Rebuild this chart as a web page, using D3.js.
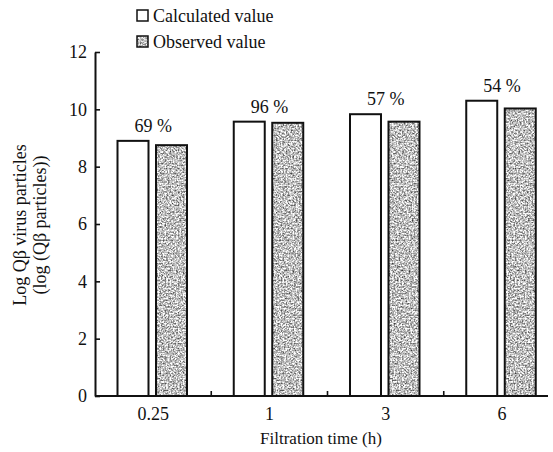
<!DOCTYPE html>
<html>
<head>
<meta charset="utf-8">
<script src="https://cdn.jsdelivr.net/npm/d3@7"></script>
<style>
  html, body { margin: 0; padding: 0; background: #fff; }
  svg { display: block; }
  text { font-family: "Liberation Serif", "Times New Roman", serif; fill: #111; }
</style>
</head>
<body>
<div id="chart"></div>
<script>
// Filtration time groups and the two series plotted for each
const categories = ["0.25", "1", "3", "6"];
const seriesNames = ["Calculated value", "Observed value"];
const calculated = [8.9, 9.57, 9.83, 10.3];
const observed = [8.75, 9.53, 9.57, 10.03];
const percentLabels = ["69 %", "96 %", "57 %", "54 %"];
const yTicks = [0, 2, 4, 6, 8, 10, 12];

const W = 553, H = 452;
const FONT = "'Liberation Serif', 'Times New Roman', serif";
const svg = d3.select("#chart").append("svg").attr("width", W).attr("height", H);

// grainy grey fill used for the observed bars
const defs = svg.append("defs");
const f = defs.append("filter").attr("id", "grain")
  .attr("x", 0).attr("y", 0).attr("width", 1).attr("height", 1)
  .attr("color-interpolation-filters", "sRGB");
f.append("feTurbulence").attr("type", "fractalNoise")
  .attr("baseFrequency", "0.6").attr("numOctaves", 3).attr("seed", 11).attr("result", "noise");
f.append("feColorMatrix").attr("in", "noise").attr("type", "matrix")
  .attr("values", "1.4 0 0 0 0.05  1.4 0 0 0 0.05  1.4 0 0 0 0.05  0 0 0 0 1")
  .attr("result", "gray");
f.append("feComposite").attr("in", "gray").attr("in2", "SourceGraphic").attr("operator", "in");

const x0 = d3.scaleBand().domain(categories).range([95, 560]).paddingInner(0).paddingOuter(0);
const x1 = d3.scaleBand().domain(seriesNames).range([22.5, 92]).paddingInner(0.195).paddingOuter(0);
const y = d3.scaleLinear().domain([0, 12]).range([396, 52]);

const data = categories.map((c, i) => ({ cat: c, vals: [calculated[i], observed[i]], label: percentLabels[i] }));
const pairs = d => d.vals.map((v, j) => ({ v, s: seriesNames[j], j }));

// bars
const groups = svg.append("g").selectAll("g").data(data).join("g")
  .attr("transform", d => `translate(${x0(d.cat)},0)`);

groups.selectAll("rect.fill").data(pairs)
  .join("rect").attr("class", "fill")
  .attr("x", d => x1(d.s)).attr("width", x1.bandwidth())
  .attr("y", d => y(d.v)).attr("height", d => y(0) - y(d.v))
  .attr("fill", d => d.j === 0 ? "#fff" : "#b8b8b8")
  .attr("filter", d => d.j === 1 ? "url(#grain)" : null);

groups.selectAll("rect.edge").data(pairs)
  .join("rect").attr("class", "edge")
  .attr("x", d => x1(d.s)).attr("width", x1.bandwidth())
  .attr("y", d => y(d.v)).attr("height", d => y(0) - y(d.v))
  .attr("fill", "none").attr("stroke", "#111").attr("stroke-width", 2);

// percentage labels above each pair
groups.append("text")
  .attr("x", x0.bandwidth() / 2)
  .attr("y", d => y(d.vals[0]) - 9)
  .attr("text-anchor", "middle")
  .attr("font-size", 18)
  .text(d => d.label);

// y axis
const yAxis = d3.axisLeft(y).tickValues(yTicks).tickSizeInner(-5).tickSizeOuter(0).tickPadding(8);
const gy = svg.append("g").attr("transform", "translate(95,0)").call(yAxis)
  .attr("font-family", FONT).attr("font-size", 18);
gy.select(".domain").attr("stroke", "#111").attr("stroke-width", 2);
gy.selectAll(".tick line").attr("stroke", "#111").attr("stroke-width", 1.6);
gy.selectAll(".tick text").attr("fill", "#111");

// x axis baseline with small separators between groups
const gx = svg.append("g").attr("transform", `translate(0,${y(0)})`);
gx.append("line").attr("x1", 95).attr("x2", 548).attr("stroke", "#111").attr("stroke-width", 2.2);
gx.selectAll("line.sep").data(categories.slice(1)).join("line").attr("class", "sep")
  .attr("x1", d => x0(d)).attr("x2", d => x0(d)).attr("y1", 0).attr("y2", -5)
  .attr("stroke", "#111").attr("stroke-width", 1.6);
gx.selectAll("text").data(categories).join("text")
  .attr("x", d => x0(d) + x0.bandwidth() / 2).attr("y", 24)
  .attr("text-anchor", "middle").attr("font-size", 18).text(d => d);

// axis titles
svg.append("text").attr("x", 321).attr("y", 444).attr("text-anchor", "middle")
  .attr("font-size", 17).text("Filtration time  (h)");
const yt = svg.append("text").attr("transform", "translate(0,225) rotate(-90)")
  .attr("text-anchor", "middle").attr("font-size", 18);
yt.append("tspan").attr("x", 0).attr("y", 26).text("Log Qβ virus particles");
yt.append("tspan").attr("x", 0).attr("y", 46).text("(log (Qβ particles))");

// legend
const leg = svg.append("g").selectAll("g").data(seriesNames).join("g")
  .attr("transform", (d, i) => `translate(137,${10 + i * 26})`);
leg.append("rect").attr("width", 11).attr("height", 11)
  .attr("fill", (d, i) => i === 0 ? "#fff" : "#b8b8b8")
  .attr("filter", (d, i) => i === 1 ? "url(#grain)" : null);
leg.append("rect").attr("width", 11).attr("height", 11)
  .attr("fill", "none").attr("stroke", "#111").attr("stroke-width", 1.5);
leg.append("text").attr("x", 16).attr("y", 12).attr("font-size", 18).text(d => d);
</script>
</body>
</html>
